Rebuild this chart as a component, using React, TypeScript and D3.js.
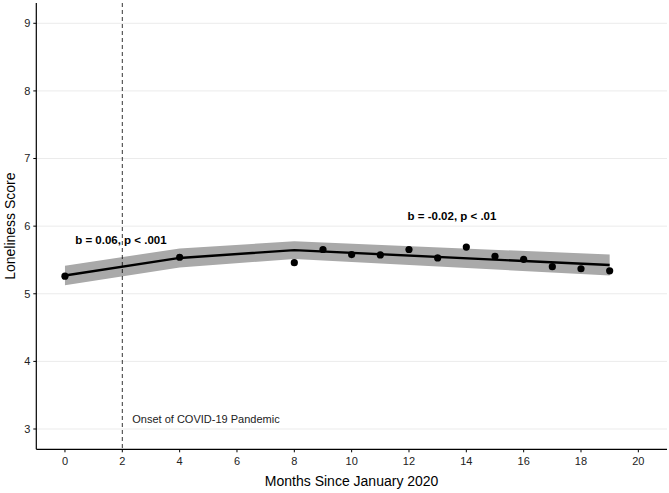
import React from "react";
import * as d3 from "d3";

const months = [0, 4, 8, 9, 10, 11, 12, 13, 14, 15, 16, 17, 18, 19];
const observed = [5.26, 5.54, 5.46, 5.655, 5.58, 5.575, 5.655, 5.53, 5.69, 5.555, 5.51, 5.4, 5.37, 5.34];
const fitMonths = [0, 4, 8, 19];
const fitted = [5.27, 5.53, 5.645, 5.425];
const ciHalf = [0.145, 0.14, 0.13, 0.155];
const xTicks = [0, 2, 4, 6, 8, 10, 12, 14, 16, 18, 20];
const yTicks = [3, 4, 5, 6, 7, 8, 9];

const W = 669, H = 493;
const L = 36.3, R = 667, T = 3, B = 449.3;

export default function App() {
  const x = d3.scaleLinear().domain([-1, 21]).range([L, R]);
  const y = d3.scaleLinear().domain([2.7, 9.3]).range([B, T]);
  const fitData = fitMonths.map((m, i) => ({ m, v: fitted[i], h: ciHalf[i] }));
  const line = d3.line<any>().x((d) => x(d.m)).y((d) => y(d.v));
  const area = d3.area<any>().x((d) => x(d.m)).y0((d) => y(d.v - d.h)).y1((d) => y(d.v + d.h));
  const font = "'Liberation Sans', Arial, sans-serif";
  return (
    <svg width={W} height={H} style={{ position: "absolute", left: 0, top: 0, background: "#fff" }} fontFamily={font}>
      {yTicks.map((t) => (
        <line key={t} x1={L} x2={R} y1={y(t)} y2={y(t)} stroke="#ebebeb" strokeWidth={1} />
      ))}
      <path d={area(fitData) || ""} fill="#a9a9a9" />
      <line x1={x(2)} x2={x(2)} y1={T} y2={B} stroke="#000" strokeWidth={0.8} strokeDasharray="4,3" />
      <path d={line(fitData) || ""} fill="none" stroke="#000" strokeWidth={2.4} />
      {months.map((m, i) => (
        <circle key={m} cx={x(m)} cy={y(observed[i])} r={3.6} fill="#000" />
      ))}
      <line x1={L} x2={L} y1={T} y2={B} stroke="#000" strokeWidth={1.2} />
      <line x1={L} x2={R} y1={B} y2={B} stroke="#000" strokeWidth={1.2} />
      {yTicks.map((t) => (
        <g key={t}>
          <line x1={L - 3} x2={L} y1={y(t)} y2={y(t)} stroke="#000" strokeWidth={1} />
          <text x={L - 6} y={y(t)} dy="0.35em" textAnchor="end" fontSize={11} fill="#222">{t}</text>
        </g>
      ))}
      {xTicks.map((t) => (
        <g key={t}>
          <line x1={x(t)} x2={x(t)} y1={B} y2={B + 3} stroke="#000" strokeWidth={1} />
          <text x={x(t)} y={B + 16} textAnchor="middle" fontSize={11} fill="#222">{t}</text>
        </g>
      ))}
      <text x={(L + R) / 2} y={486} textAnchor="middle" fontSize={14} fill="#000">Months Since January 2020</text>
      <text transform={`translate(15,${(T + B) / 2}) rotate(-90)`} textAnchor="middle" fontSize={14} fill="#000">Loneliness Score</text>
      <text x={x(2) + 10} y={y(3.14)} dy="0.35em" fontSize={11} fill="#222">Onset of COVID-19 Pandemic</text>
      <text x={x(1.95)} y={y(5.79)} dy="0.35em" textAnchor="middle" fontSize={11.5} fontWeight="bold" fill="#000">b = 0.06, p &lt; .001</text>
      <text x={x(13.5)} y={y(6.15)} dy="0.35em" textAnchor="middle" fontSize={11.5} fontWeight="bold" fill="#000">b = -0.02, p &lt; .01</text>
    </svg>
  );
}
